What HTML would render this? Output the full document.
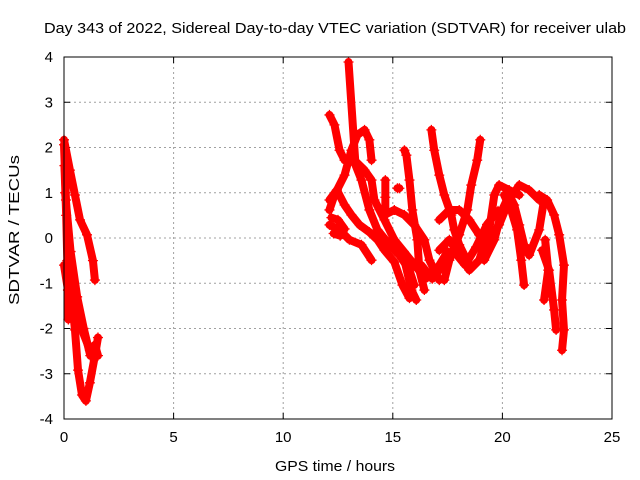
<!DOCTYPE html>
<html><head><meta charset="utf-8"><style>
body{margin:0;background:#fff}
svg{display:block;font-family:"Liberation Sans",sans-serif}
</style></head><body>
<svg id="chart" width="640" height="480" viewBox="0 0 640 480">
<rect width="640" height="480" fill="#fff"/>
<text x="44" y="33" font-size="15" textLength="582" lengthAdjust="spacingAndGlyphs">Day 343 of 2022, Sidereal Day-to-day VTEC variation (SDTVAR) for receiver ulab</text>
<text x="275" y="471" font-size="15" textLength="120" lengthAdjust="spacingAndGlyphs">GPS time / hours</text>
<text transform="translate(19,305) rotate(-90)" font-size="15" textLength="150" lengthAdjust="spacingAndGlyphs">SDTVAR / TECUs</text>
<g id="grid"></g>
<g id="ticks"></g>
<g id="series"></g>
<rect x="64" y="57" width="548" height="362" fill="none" stroke="#000" stroke-width="1"/>
</svg>
<script>
const xTicks=[0,5,10,15,20,25];
const yTicks=[-4,-3,-2,-1,0,1,2,3,4];
const traceTimes=[
 [0,0.27,0.5,0.73,1.05,1.32,1.41],
 [0,0.09,0.18,0.36,0.5,0.64,0.82,1.0,1.18,1.41,1.55],
 [0,0.18,0.5,0.82,1.18,1.41,1.55],
 [0.05,0.3,0.6,0.9,1.2],
 [0.02,0.1,0.15,0.2],
 [12.98,13.3,13.57,13.93,14.3,14.85,15.3,15.76,15.98],
 [12.11,12.34,12.57,12.8,13.25,13.71,14.03,14.16,14.62,15.07,15.53,15.85,16.07],
 [12.11,12.34,12.8,13.11,13.39,13.71,13.93,14.03],
 [12.11,12.57,13.02,13.57,14.03],
 [12.2,12.5,12.8,12.6,12.3],
 [12.11,12.45,12.8,13.11,13.48,13.93,14.3,14.62,15.07,15.44,15.76],
 [14.62,15.07,15.53,15.98,16.44,16.67,17.12],
 [14.66,14.66,14.66],
 [15.21,15.3],
 [15.53,15.62,15.76,15.89,16.12,16.21,16.44],
 [15.0,15.5,16.0,16.5,17.0,17.5],
 [16.76,16.89,17.12,17.35,17.67,17.8,18.03,18.49],
 [18.99,18.85,18.58,18.4,18.03,17.58,17.35],
 [17.12,17.58,18.03,18.49,18.94,19.4,19.85,20.31,20.77,21.22,21.68],
 [17.12,17.58,18.03,18.49,18.94,19.4,19.63,19.85,20.31,20.77],
 [19.17,19.63,19.99,20.31,20.54,20.77,20.99,21.22,21.68,21.9],
 [20.08,20.4,20.67,20.86,20.99],
 [21.68,22.04,22.36,22.59,22.81,22.72,22.81,22.72],
 [21.81,22.13,22.36,22.45],
 [21.95,22.09,21.9],
 [16.3,16.8,17.3,17.8,18.3,18.8,19.3,19.8]
];
const traceValues=[
 [2.17,1.5,0.95,0.4,0.07,-0.5,-0.93],
 [2.06,0.84,-0.49,-1.37,-2.03,-2.92,-3.47,-3.6,-3.2,-2.6,-2.2],
 [-0.6,-1.15,-1.59,-2.03,-2.48,-2.36,-2.6],
 [1.0,-0.3,-1.3,-2.0,-2.6],
 [1.6,0.5,-0.5,-1.8],
 [3.89,1.61,1.28,0.62,0.18,-0.15,-0.38,-0.71,-1.04],
 [2.72,2.5,1.94,1.72,1.72,1.5,1.28,0.84,0.4,-0.04,-0.49,-1.15,-1.37],
 [0.62,0.95,1.39,1.94,2.28,2.39,2.17,1.72],
 [0.29,0.18,-0.04,-0.15,-0.49],
 [0.45,0.4,0.2,0.05,0.1],
 [0.84,1.06,0.73,0.51,0.29,0.13,-0.04,-0.27,-0.53,-1.04,-1.33],
 [0.51,0.62,0.51,0.29,-0.04,-0.49,-0.93],
 [1.28,0.9,0.51],
 [1.1,1.1],
 [1.94,1.83,1.28,0.62,-0.04,-0.71,-1.15],
 [0.0,-0.3,-0.6,-0.9,-0.7,-0.3],
 [2.39,1.94,1.39,0.95,0.51,0.18,-0.15,-0.6],
 [2.17,1.72,1.17,0.62,0.07,-0.49,-0.93],
 [0.4,0.62,0.62,0.4,0.07,-0.04,0.29,0.84,1.17,1.06,0.84],
 [-0.27,-0.04,-0.38,-0.71,-0.49,0.18,0.95,1.17,1.06,0.95],
 [-0.49,-0.04,0.62,0.95,0.73,0.29,-0.15,-0.38,0.18,0.84],
 [0.95,0.62,0.18,-0.49,-1.04],
 [0.95,0.84,0.51,0.07,-0.6,-1.37,-2.03,-2.48],
 [-0.27,-0.71,-1.59,-2.03],
 [-0.04,-0.71,-1.37],
 [-0.6,-0.9,-0.6,-0.3,-0.6,-0.2,0.3,0.6]
];
const L=64,R=612,T=57,B=419;
const xs=t=>L+(t-0)/(25-0)*(R-L);
const ys=v=>B-(v+4)/8*(B-T);
const NS='http://www.w3.org/2000/svg';
const grid=document.getElementById('grid'),ticks=document.getElementById('ticks'),series=document.getElementById('series');
function mk(tag,attrs,parent){const e=document.createElementNS(NS,tag);for(const k in attrs)e.setAttribute(k,attrs[k]);parent.appendChild(e);return e;}
xTicks.forEach(t=>{
 const x=xs(t);
 if(t>0&&t<25){const g=mk('line',{x1:x,x2:x,y1:T,y2:B,stroke:'#a0a0a0','stroke-dasharray':'2,3'},grid);
 
 }
 mk('line',{x1:x,x2:x,y1:B,y2:B-6,stroke:'#000'},ticks);
 mk('line',{x1:x,x2:x,y1:T,y2:T+6,stroke:'#000'},ticks);
 const lb=mk('text',{x:x,y:B+23,'font-size':15,'text-anchor':'middle'},ticks);lb.textContent=t;
 
 
});
yTicks.forEach(v=>{
 const y=ys(v);
 if(v>-4&&v<4){const g=mk('line',{x1:L,x2:R,y1:y,y2:y,stroke:'#a0a0a0','stroke-dasharray':'2,3'},grid);
 
 }
 mk('line',{x1:L,x2:L+6,y1:y,y2:y,stroke:'#000'},ticks);
 mk('line',{x1:R,x2:R-6,y1:y,y2:y,stroke:'#000'},ticks);
 const lb=mk('text',{x:L-11,y:y+5,'font-size':15,'text-anchor':'end'},ticks);lb.textContent=v;
 
 
});
traceTimes.forEach((ts,i)=>{
 const vs=traceValues[i];
 const pts=ts.map((t,j)=>xs(t)+','+ys(vs[j])).join(' ');
 const pl=mk('polyline',{points:pts,fill:'none',stroke:'#ff0000','stroke-width':8,'stroke-linejoin':'round','stroke-linecap':'round'},series);
 
 
 ts.forEach((t,j)=>{
  const x=xs(t),y=ys(vs[j]);
  const m=mk('path',{d:`M${x-5},${y}H${x+5}M${x},${y-5}V${y+5}`,stroke:'#ff0000','stroke-width':1.3},series);
  
  
 });
});
</script>
</body></html>
